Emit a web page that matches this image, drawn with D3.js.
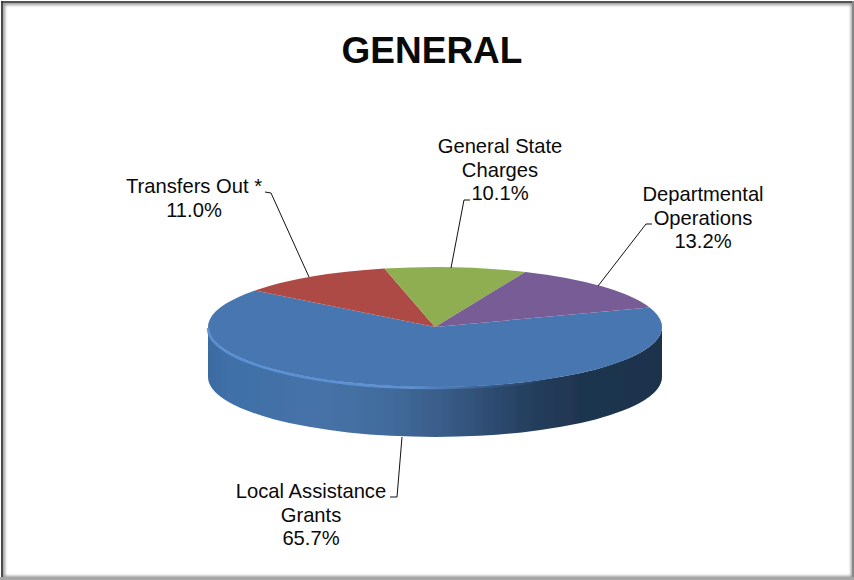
<!DOCTYPE html>
<html><head><meta charset="utf-8">
<script src="https://cdn.jsdelivr.net/npm/d3@7"></script>
<style>html,body{margin:0;padding:0;background:#fff}svg{display:block}text{font-family:"Liberation Sans",Arial,sans-serif;fill:#0a0a0a}</style>
</head><body>
<script>
const categories = ["Local Assistance Grants","Transfers Out *","General State Charges","Departmental Operations"];
const values = [65.7,11.0,10.1,13.2];
const colors = ["#4776B0","#AE4A45","#8FAE52","#775C95"];
const title = "GENERAL";
const labelLines = [["Local Assistance","Grants","65.7%"],["Transfers Out *","11.0%"],["General State","Charges","10.1%"],["Departmental","Operations","13.2%"]];

const W=854,H=580,cx=435,cy=327,rx=227,ry=60,depth=50;
const svg=d3.select("body").append("svg").attr("width",W).attr("height",H);
const defs=svg.append("defs");
const wall=defs.append("linearGradient").attr("id","wall").attr("gradientUnits","userSpaceOnUse")
  .attr("x1",cx-rx).attr("x2",cx+rx).attr("y1",0).attr("y2",0);
[[0,"#3C6BA2"],[.06,"#4070A8"],[.25,"#4672A8"],[.4,"#426B9C"],[.52,"#395C88"],[.62,"#2E4C72"],[.72,"#243D5C"],[.82,"#1F3550"],[1,"#1E324C"]]
  .forEach(s=>wall.append("stop").attr("offset",s[0]).attr("stop-color",s[1]));
const rim=defs.append("linearGradient").attr("id","rim").attr("gradientUnits","userSpaceOnUse")
  .attr("x1",cx-rx).attr("x2",cx+rx).attr("y1",0).attr("y2",0);
[[0,"#5C92D4",.9],[.45,"#5F93D6",.95],[.6,"#4776B0",.5],[.75,"#3A5F8C",0],[1,"#2A4666",0]]
  .forEach(s=>rim.append("stop").attr("offset",s[0]).attr("stop-color",s[1]).attr("stop-opacity",s[2]));
defs.append("filter").attr("id","soft").attr("x","-5%").attr("y","-20%").attr("width","110%").attr("height","140%")
  .append("feGaussianBlur").attr("stdDeviation",.7);
defs.append("filter").attr("id","sh").attr("x","-5%").attr("y","-5%").attr("width","110%").attr("height","110%")
  .append("feGaussianBlur").attr("stdDeviation",1.5);

// frame
const frame=svg.append("g");
frame.append("rect").attr("x",3).attr("y",3).attr("width",W-4).attr("height",H-5).attr("fill","none").attr("stroke","#999").attr("stroke-width",4).attr("filter","url(#sh)");
frame.append("line").attr("x1",2).attr("x2",2).attr("y1",1).attr("y2",H).attr("stroke","#333").attr("stroke-width",1.6);
frame.append("line").attr("x1",1).attr("x2",W).attr("y1",2).attr("y2",2).attr("stroke","#333").attr("stroke-width",1.6);
frame.append("rect").attr("x",0).attr("y",0).attr("width",W).attr("height",1).attr("fill","#fff");
frame.append("rect").attr("x",0).attr("y",0).attr("width",1).attr("height",H).attr("fill","#fff");
frame.append("rect").attr("x",W-2).attr("y",1).attr("width",2).attr("height",H).attr("fill","#888");
frame.append("rect").attr("x",0).attr("y",H-3).attr("width",W).attr("height",3).attr("fill","#a6a6a6");

svg.append("text").attr("x",432).attr("y",63).attr("text-anchor","middle").attr("font-size",37).attr("font-weight",700).text(title);

const start=71*Math.PI/180;
const pie=d3.pie().sort(null).startAngle(start).endAngle(start+2*Math.PI)(values);
const k=ry/rx;
const arc=d3.arc().innerRadius(0).outerRadius(rx);

// wall: lower half of the ellipse extruded by the depth
const A=`M${cx+rx},${cy}V${cy+depth}A${rx},${ry} 0 0 1 ${cx-rx},${cy+depth}V${cy}A${rx},${ry} 0 0 0 ${cx+rx},${cy}Z`;
svg.append("path").attr("d",A).attr("fill","url(#wall)").attr("filter","url(#soft)");

const pieG=svg.append("g").attr("transform",`translate(${cx},${cy}) scale(1,${k})`);
pieG.selectAll("path").data(pie).join("path").attr("d",arc).attr("fill",(d,i)=>colors[i]);

// rim highlight on the front edge of the top face
svg.append("path").attr("d",`M${cx-rx},${cy+1}A${rx},${ry} 0 0 0 ${cx+rx},${cy+1}`)
  .attr("fill","none").attr("stroke","url(#rim)").attr("stroke-width",2.6).attr("filter","url(#soft)");

// leaders
const leaders=[[[402,437],[397,497],[390,497]],[[309,277],[271,193],[265,192]],[[451,268],[464,200],[470,200]],[[598,286],[646,224],[652,224]]];
const line=d3.line();
svg.append("g").selectAll("path").data(leaders).join("path").attr("d",line).attr("fill","none").attr("stroke","#111").attr("stroke-width",1);

const anchors=[[311,498],[194,193],[500,153],[703,201]];
const fs=20.2,lh=23.5;
const lab=svg.append("g");
labelLines.forEach((ls,i)=>{
  const t=lab.append("text").attr("text-anchor","middle").attr("font-size",fs);
  ls.forEach((s,j)=>t.append("tspan").attr("x",anchors[i][0]).attr("y",anchors[i][1]+j*lh).text(s));
});
</script>
</body></html>
